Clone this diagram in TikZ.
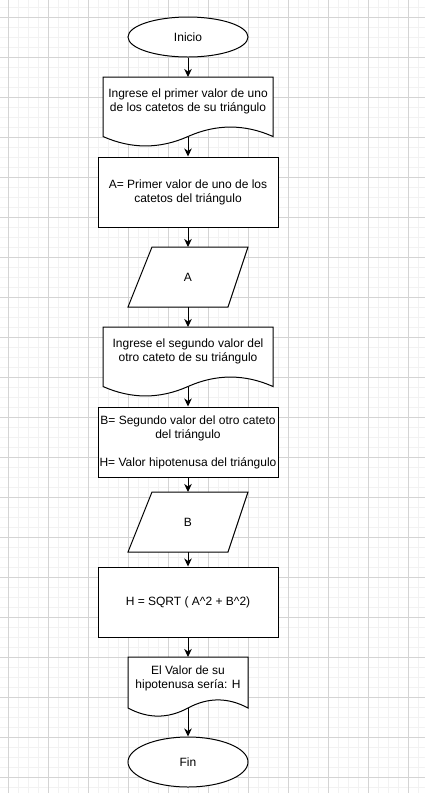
\documentclass[tikz,border=0pt]{standalone}
\usepackage{fontspec}
\setmainfont{Liberation Sans}
\usetikzlibrary{arrows.meta,shapes.geometric}
\definecolor{gridmajor}{RGB}{212,212,212}
\definecolor{gridminor}{RGB}{242,242,242}
\begin{document}
\begin{tikzpicture}[x=1pt,y=-1pt,
  shp/.style={draw=black,line width=1pt,fill=white},
  lbl/.style={align=center,font=\fontsize{12}{14}\selectfont,inner sep=0pt},
  rbox/.style={shp,lbl,rectangle,minimum width=180pt,minimum height=70pt},
  term/.style={shp,lbl,ellipse,minimum width=120pt},
  arr/.style={line width=1pt,-{Stealth[length=8pt,width=7.5pt,inset=2.5pt]}},
  gmin/.style={draw=gridminor,line width=1pt},
  gmaj/.style={draw=gridmajor,line width=1pt}]
\fill[white] (0,0) rectangle (425,796);
\useasboundingbox (0,0) rectangle (425,796);
% grid
\begin{scope}
\clip (0,0) rectangle (425,792);
\foreach \x in {-2,8,...,428} \draw[gmin] (\x,0) -- (\x,796);
\foreach \y in {7,17,...,797} \draw[gmin] (0,\y) -- (425,\y);
\foreach \x in {8,48,...,428} \draw[gmaj] (\x,0) -- (\x,796);
\foreach \y in {17,57,...,797} \draw[gmaj] (0,\y) -- (425,\y);
\end{scope}

% terminals and boxes
\node[term,minimum height=40pt] (ini) at (188,37) {Inicio};
\node[rbox] (ra) at (188,192) {A= Primer valor de uno de los\\catetos del triángulo};
\node[rbox] (rb) at (188,442) {B= Segundo valor del otro cateto\\del triángulo\\[14pt]H= Valor hipotenusa del triángulo};
\node[rbox] (rh) at (188,602) {H = SQRT ( A\textasciicircum2 + B\textasciicircum2)};
\node[term,minimum height=50pt] (fin) at (188,762) {Fin};

% document 1
\draw[shp] (103,77) -- (273,77) -- (273,136.5)
  .. controls (244.667,123.9) and (216.333,123.9) .. (188,136.5)
  .. controls (159.667,149.1) and (131.333,149.1) .. (103,136.5) -- cycle;
\node[lbl] (t1) at (188,101.5) {Ingrese el primer valor de uno\\de los catetos de su triángulo};
\coordinate (d1top) at (188,77);
\coordinate (d1bot) at (188,136.5);

% parallelogram A
\draw[shp] (152,247) -- (248,247) -- (228,307) -- (128,307) -- cycle;
\node[lbl] (pa) at (188,277) {A};
\coordinate (patop) at (188,247);
\coordinate (pabot) at (188,307);

% document 2
\draw[shp] (103,327) -- (273,327) -- (273,386.5)
  .. controls (244.667,373.9) and (216.333,373.9) .. (188,386.5)
  .. controls (159.667,399.1) and (131.333,399.1) .. (103,386.5) -- cycle;
\node[lbl] (t2) at (188,351.5) {Ingrese el segundo valor del\\otro cateto de su triángulo};
\coordinate (d2top) at (188,327);
\coordinate (d2bot) at (188,386.5);

% parallelogram B
\draw[shp] (152,492) -- (248,492) -- (228,552) -- (128,552) -- cycle;
\node[lbl] (pb) at (188,522) {B};
\coordinate (pbtop) at (188,492);
\coordinate (pbbot) at (188,552);

% document 3
\draw[shp] (128,657) -- (248,657) -- (248,708)
  .. controls (228,697.2) and (208,697.2) .. (188,708)
  .. controls (168,718.8) and (148,718.8) .. (128,708) -- cycle;
\node[lbl] (t3) at (188,678) {El Valor de su\\hipotenusa sería: H};
\coordinate (d3top) at (188,657);
\coordinate (d3bot) at (188,708);

% connectors
\draw[arr] (ini.south) -- (d1top);
\draw[arr] (d1bot) -- (ra.north);
\draw[arr] (ra.south) -- (patop);
\draw[arr] (pabot) -- (d2top);
\draw[arr] (d2bot) -- (rb.north);
\draw[arr] (rb.south) -- (pbtop);
\draw[arr] (pbbot) -- (rh.north);
\draw[arr] (rh.south) -- (d3top);
\draw[arr] (d3bot) -- (fin.north);
\end{tikzpicture}
\end{document}
